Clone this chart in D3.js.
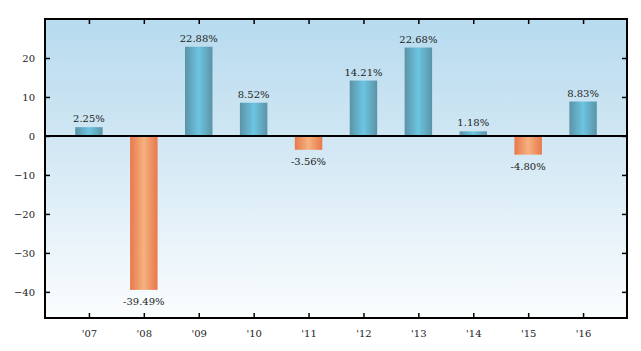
<!DOCTYPE html>
<html>
<head>
<meta charset="utf-8">
<script src="https://cdn.jsdelivr.net/npm/d3@7"></script>
<style>
  body { margin: 0; background: #fff; }
  text { font-family: "DejaVu Serif", serif; fill: #222; }
</style>
</head>
<body>
<script>
// chart data
var years = ["'07", "'08", "'09", "'10", "'11", "'12", "'13", "'14", "'15", "'16"];
var returns = [2.25, -39.49, 22.88, 8.52, -3.56, 14.21, 22.68, 1.18, -4.80, 8.83];
var yTicks = [-40, -30, -20, -10, 0, 10, 20];

var margin = {top: 19, right: 14, bottom: 33, left: 45},
    width = 641 - margin.left - margin.right,
    height = 351 - margin.top - margin.bottom;

var x = d3.scaleLinear().domain([-0.8, 9.8]).range([0, width]);
var y = d3.scaleLinear().domain([-46.7, 30]).range([height, 0]);
var barW = x(0.5) - x(0);

var svg = d3.select("body").append("svg")
    .attr("width", 641).attr("height", 351)
    .append("g")
    .attr("transform", "translate(" + margin.left + "," + margin.top + ")");

var defs = svg.append("defs");

// background gradient
var bg = defs.append("linearGradient").attr("id", "bg")
    .attr("x1", 0).attr("y1", 0).attr("x2", 0).attr("y2", 1);
bg.append("stop").attr("offset", "0%").attr("stop-color", "#b7dbef");
bg.append("stop").attr("offset", "38%").attr("stop-color", "#cfe6f3");
bg.append("stop").attr("offset", "100%").attr("stop-color", "#fbfdfe");

function barGrad(id, edge, mid) {
  var g = defs.append("linearGradient").attr("id", id)
      .attr("x1", 0).attr("y1", 0).attr("x2", 1).attr("y2", 0);
  g.append("stop").attr("offset", "0%").attr("stop-color", edge);
  g.append("stop").attr("offset", "50%").attr("stop-color", mid);
  g.append("stop").attr("offset", "100%").attr("stop-color", edge);
}
barGrad("pos", "#5b93a6", "#6cc5e2");
barGrad("neg", "#e8784c", "#f5b27f");

svg.append("rect")
    .attr("width", width).attr("height", height)
    .style("fill", "url(#bg)");

// bars
svg.selectAll(".bar")
    .data(returns)
    .enter()
    .append("rect")
    .attr("class", "bar")
    .attr("x", function(d, i) { return x(i) - barW / 2; })
    .attr("width", barW)
    .attr("y", function(d) { return y(Math.max(d, 0)); })
    .attr("height", function(d) { return Math.abs(y(d) - y(0)); })
    .style("fill", function(d) { return d >= 0 ? "url(#pos)" : "url(#neg)"; });

// value labels
svg.selectAll(".lbl")
    .data(returns)
    .enter()
    .append("text")
    .attr("class", "lbl")
    .attr("x", function(d, i) { return x(i); })
    .attr("y", function(d) { return d >= 0 ? y(d) - 5 : y(d) + 15; })
    .attr("text-anchor", "middle")
    .style("font-size", "10px")
    .text(function(d) { return d.toFixed(2) + "%"; });

// zero line
svg.append("line")
    .attr("x1", 0).attr("x2", width)
    .attr("y1", y(0)).attr("y2", y(0))
    .style("stroke", "#000").style("stroke-width", 2);

// axes, ticks pointing inward
var xAxis = d3.axisBottom(x)
    .tickValues(d3.range(years.length))
    .tickFormat(function(i) { return years[i]; })
    .tickSizeInner(-5).tickSizeOuter(0).tickPadding(12);
var gx = svg.append("g").attr("transform", "translate(0," + height + ")").call(xAxis);

var gxt = svg.append("g").call(d3.axisTop(x)
    .tickValues(d3.range(years.length)).tickFormat("")
    .tickSizeInner(-5).tickSizeOuter(0));

var gy = svg.append("g").call(d3.axisLeft(y)
    .tickValues(yTicks).tickFormat(d3.format("d"))
    .tickSizeInner(-5).tickSizeOuter(0).tickPadding(10));

var gyr = svg.append("g").attr("transform", "translate(" + width + ",0)")
    .call(d3.axisRight(y).tickValues(yTicks).tickFormat("")
    .tickSizeInner(-5).tickSizeOuter(0));

[gx, gxt, gy, gyr].forEach(function(g) {
  g.select(".domain").remove();
  g.selectAll("line").style("stroke", "#000").style("stroke-width", 1.5);
  g.selectAll("text").style("font-size", "10px").style("font-family", "DejaVu Serif").style("fill", "#222");
});
gy.selectAll("text").text(function(d) { return d < 0 ? "\u2212" + Math.abs(d) : d; });

// frame
svg.append("rect")
    .attr("width", width).attr("height", height)
    .style("fill", "none").style("stroke", "#000").style("stroke-width", 2);
</script>
</body>
</html>
